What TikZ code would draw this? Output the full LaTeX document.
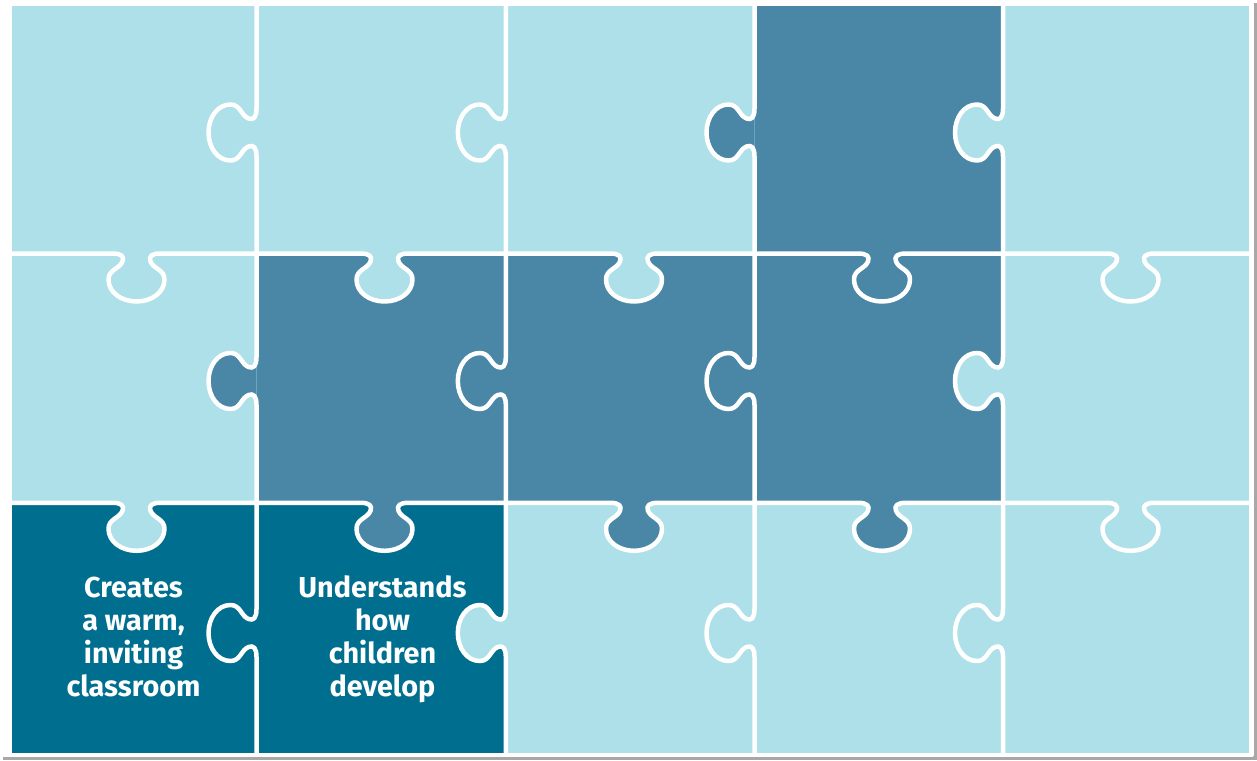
\documentclass[tikz,border=0pt]{standalone}
\usepackage{fontspec}
\setmainfont{Fira Sans}
\definecolor{pzlight}{HTML}{AEE0E9}
\definecolor{pzsteel}{HTML}{4A87A7}
\definecolor{pzdark}{HTML}{006F8F}
\definecolor{pzshadow}{HTML}{A8A8A8}
\begin{document}
\begin{tikzpicture}[x=1pt,y=-1pt,
  seam/.style={draw=white,line width=4.5pt,line join=round},
  lbl/.style={text=white,align=center,font=\bfseries\fontsize{28.8}{33}\selectfont,inner sep=0pt},
  hk/.style 2 args={insert path={ -- ({#1-24},#2) .. controls ({#1-15},#2) and ({#1-12},{#2+3}) .. ({#1-14},{#2+8}) .. controls ({#1-17},{#2+15.5}) and ({#1-28},{#2+16}) .. ({#1-28},{#2+26}) .. controls ({#1-28},{#2+39}) and ({#1-15},{#2+48}) .. (#1,{#2+48}) .. controls ({#1+15},{#2+48}) and ({#1+28},{#2+39}) .. ({#1+28},{#2+26}) .. controls ({#1+28},{#2+16}) and ({#1+17},{#2+15.5}) .. ({#1+14},{#2+8}) .. controls ({#1+12},{#2+3}) and ({#1+15},#2) .. ({#1+24},#2)}},
  vk/.style 2 args={insert path={ -- (#1,{#2-24}) .. controls (#1,{#2-15}) and ({#1-3},{#2-12}) .. ({#1-8},{#2-14}) .. controls ({#1-15.5},{#2-17}) and ({#1-16},{#2-28}) .. ({#1-26},{#2-28}) .. controls ({#1-39},{#2-28}) and ({#1-48},{#2-15}) .. ({#1-48},#2) .. controls ({#1-48},{#2+15}) and ({#1-39},{#2+28}) .. ({#1-26},{#2+28}) .. controls ({#1-16},{#2+28}) and ({#1-15.5},{#2+17}) .. ({#1-8},{#2+14}) .. controls ({#1-3},{#2+12}) and (#1,{#2+15}) .. (#1,{#2+24})}}
]
\useasboundingbox (0,0) rectangle (1257,760);
% page and shadow
\fill[pzshadow] (3,3) rectangle (1257,760);
\fill[white] (0,0) rectangle (1253,757);
% cells
\fill[pzlight] (10,4) rectangle (1251.3,755);
\fill[pzsteel] (754.5,4) rectangle (1003,253.5);
\fill[pzsteel] (256.5,253.5) rectangle (1003,502.8);
\fill[pzdark] (10,502.8) rectangle (505.8,755);
% knob fills on vertical edges (owner = right piece, protrudes left)
\fill[pzlight] (256.5,108.5) [vk={256.5}{132.5}] -- cycle;
\fill[pzlight] (505.8,108.5) [vk={505.8}{132.5}] -- cycle;
\fill[pzsteel] (754.5,108.5) [vk={754.5}{132.5}] -- cycle;
\fill[pzlight] (1003,108.5) [vk={1003}{132.5}] -- cycle;
\fill[pzsteel] (256.5,357) [vk={256.5}{381}] -- cycle;
\fill[pzsteel] (505.8,357) [vk={505.8}{381}] -- cycle;
\fill[pzsteel] (754.5,357) [vk={754.5}{381}] -- cycle;
\fill[pzlight] (1003,357) [vk={1003}{381}] -- cycle;
\fill[pzdark] (256.5,609) [vk={256.5}{633}] -- cycle;
\fill[pzlight] (505.8,609) [vk={505.8}{633}] -- cycle;
\fill[pzlight] (754.5,609) [vk={754.5}{633}] -- cycle;
\fill[pzlight] (1003,609) [vk={1003}{633}] -- cycle;
% knob fills on horizontal edges (owner = upper piece, protrudes down)
\fill[pzlight] (112.5,253.5) [hk={136.5}{253.5}] -- cycle;
\fill[pzlight] (360.5,253.5) [hk={384.5}{253.5}] -- cycle;
\fill[pzlight] (610,253.5) [hk={634}{253.5}] -- cycle;
\fill[pzsteel] (858,253.5) [hk={882}{253.5}] -- cycle;
\fill[pzlight] (1106.5,253.5) [hk={1130.5}{253.5}] -- cycle;
\fill[pzlight] (112.5,502.8) [hk={136.5}{502.8}] -- cycle;
\fill[pzsteel] (360.5,502.8) [hk={384.5}{502.8}] -- cycle;
\fill[pzsteel] (610,502.8) [hk={634}{502.8}] -- cycle;
\fill[pzsteel] (858,502.8) [hk={882}{502.8}] -- cycle;
\fill[pzlight] (1106.5,502.8) [hk={1130.5}{502.8}] -- cycle;
% white seams
\foreach \hy in {253.5,502.8}{
  \draw[seam] (10,\hy) [hk={136.5}{\hy}] [hk={384.5}{\hy}] [hk={634}{\hy}] [hk={882}{\hy}] [hk={1130.5}{\hy}] -- (1251.3,\hy);
}
\foreach \vx in {256.5,505.8,754.5,1003}{
  \draw[seam] (\vx,4) [vk={\vx}{132.5}] [vk={\vx}{381}] [vk={\vx}{633}] -- (\vx,755);
}
\draw[seam] (10,4) rectangle (1251.3,755);
% labels
\node[lbl] (t1) at (133.5,637) {Creates\\a warm,\\inviting\\classroom};
\node[lbl] (t2) at (382.5,639.5) {Understands\\how\\children\\develop};
\end{tikzpicture}
\end{document}
